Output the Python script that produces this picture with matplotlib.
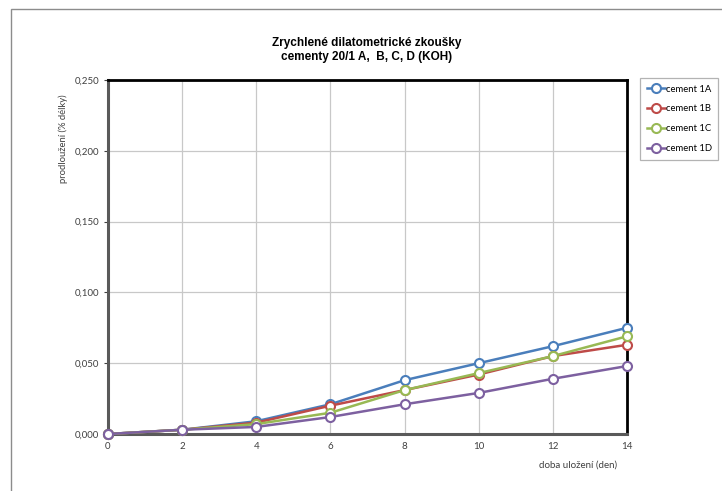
import matplotlib.pyplot as plt
from matplotlib.patches import Rectangle
from matplotlib.ticker import FuncFormatter

days = [0, 2, 4, 6, 8, 10, 12, 14]
cement_1a = [0.000, 0.003, 0.009, 0.021, 0.038, 0.050, 0.062, 0.075]
cement_1b = [0.000, 0.003, 0.008, 0.020, 0.031, 0.042, 0.055, 0.063]
cement_1c = [0.000, 0.003, 0.007, 0.015, 0.031, 0.043, 0.055, 0.069]
cement_1d = [0.000, 0.003, 0.005, 0.012, 0.021, 0.029, 0.039, 0.048]

series = [
    ('cement 1A', cement_1a, '#4a7ebb'),
    ('cement 1B', cement_1b, '#be4b48'),
    ('cement 1C', cement_1c, '#98b954'),
    ('cement 1D', cement_1d, '#7d60a0'),
]

plt.rcParams['font.family'] = ['Lato', 'DejaVu Sans']

fig = plt.figure(figsize=(7.22, 4.91), dpi=100)
W, H = 722, 491
ax = fig.add_axes([108 / W, 1 - 434 / H, (627 - 108) / W, (434 - 80) / H])

# outer chart frame
fig.patches.append(Rectangle((11 / W, -0.1), 1.2, 1 - 9 / H + 0.1, transform=fig.transFigure,
                             fill=False, edgecolor='#8c8c8c', linewidth=1.0))

for name, vals, col in series:
    ax.plot(days, vals, '-o', color=col, lw=1.8, ms=6.5, mfc='white', mec=col, mew=1.5,
            label=name, clip_on=False, zorder=3)

ax.set_xlim(0, 14)
ax.set_ylim(0, 0.25)
ax.set_xticks(days)
ax.set_yticks([0, 0.05, 0.10, 0.15, 0.20, 0.25])
ax.yaxis.set_major_formatter(FuncFormatter(lambda v, p: ('%.3f' % v).replace('.', ',')))
ax.grid(True, color='#c8c8c8', lw=0.9)
ax.set_axisbelow(True)
ax.tick_params(axis='both', labelsize=7, colors='#404040', length=3, width=0.8)
ax.tick_params(axis='x', length=0, pad=6)

for s in ['left', 'bottom']:
    ax.spines[s].set_color('#5a5a5a')
    ax.spines[s].set_linewidth(2.2)
for s in ['top', 'right']:
    ax.spines[s].set_color('black')
    ax.spines[s].set_linewidth(2.0)

ax.set_ylabel('prodloužení (% délky)', fontsize=6.8, color='#404040')
ax.yaxis.set_label_coords(-0.078, 0.835)
ax.set_xlabel('doba uložení (den)', fontsize=7, color='#404040')
ax.xaxis.set_label_coords(0.906, -0.075)

fig.text(367 / W, 1 - 50 / H, 'Zrychlené dilatometrické zkoušky\ncementy 20/1 A,  B, C, D (KOH)',
         ha='center', va='center', fontsize=8.5, fontweight='bold', linespacing=1.25,
         family=['Liberation Sans', 'DejaVu Sans'])

leg = fig.legend(loc='upper left', bbox_to_anchor=(640 / W, 1 - 78 / H), fontsize=6.8,
                 frameon=True, fancybox=False, edgecolor='#a0a0a0', handlelength=1.9,
                 handletextpad=0.1, borderpad=0.7, labelspacing=1.15, borderaxespad=0)
leg.get_frame().set_linewidth(0.9)

fig.savefig('out.png', dpi=100)
